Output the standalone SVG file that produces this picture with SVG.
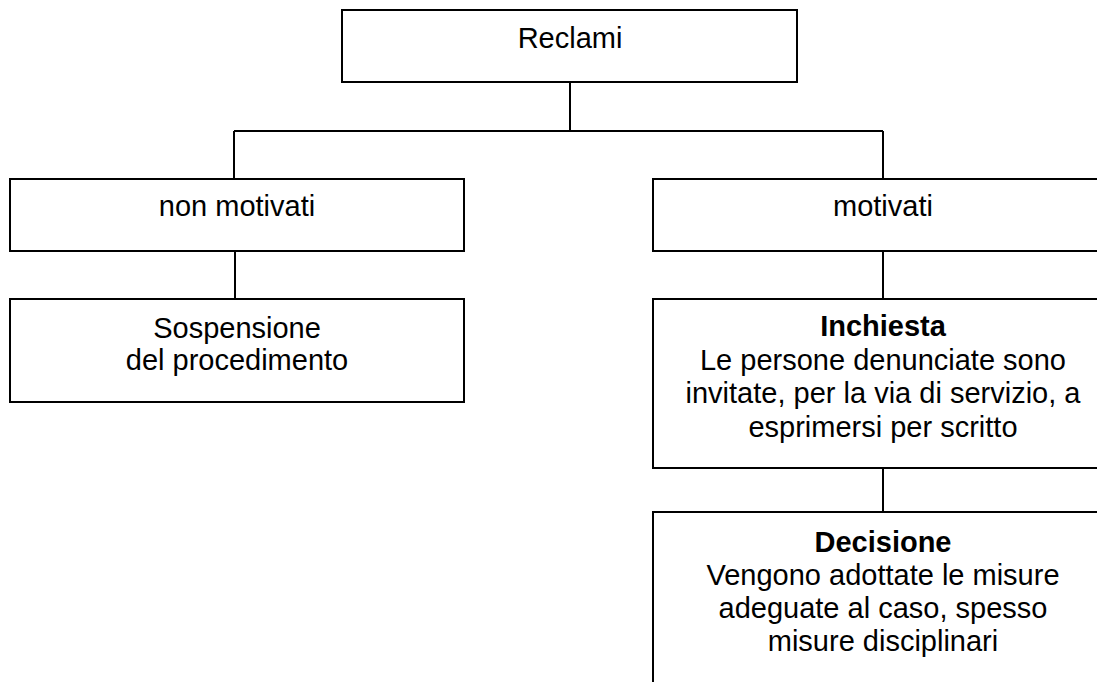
<svg xmlns="http://www.w3.org/2000/svg" width="1097" height="682" viewBox="0 0 1097 682">
<style>
.box{fill:#fff;stroke:#000;stroke-width:2}
.ln{fill:none;stroke:#000;stroke-width:2}
text{font-family:"Liberation Sans",Arial,sans-serif;font-size:29px;fill:#000;text-anchor:middle}
.b{font-weight:bold}
</style>
<rect width="1097" height="682" fill="#fff"/>
<g id="connectors">
<path class="ln" d="M570,82 V131"/>
<path class="ln" d="M234,131 H883"/>
<path class="ln" d="M234,131 V179"/>
<path class="ln" d="M883,131 V179"/>
<path class="ln" d="M235,251 V299"/>
<path class="ln" d="M883,251 V299"/>
<path class="ln" d="M883,468 V512"/>
</g>
<g id="reclami">
<rect class="box" x="342" y="10" width="455" height="72"/>
<text x="570" y="48">Reclami</text>
</g>
<g id="non-motivati">
<rect class="box" x="10" y="179" width="454" height="72"/>
<text x="237" y="216">non motivati</text>
</g>
<g id="sospensione">
<rect class="box" x="10" y="299" width="454" height="103"/>
<text x="237" y="338">Sospensione</text>
<text x="237" y="370">del procedimento</text>
</g>
<g id="motivati">
<rect class="box" x="653" y="179" width="460" height="72"/>
<text x="883" y="216">motivati</text>
</g>
<g id="inchiesta">
<rect class="box" x="653" y="299" width="460" height="169"/>
<text class="b" x="883" y="336">Inchiesta</text>
<text x="883" y="370">Le persone denunciate sono</text>
<text x="883" y="403">invitate, per la via di servizio, a</text>
<text x="883" y="437">esprimersi per scritto</text>
</g>
<g id="decisione">
<rect class="box" x="653" y="512" width="460" height="190"/>
<text class="b" x="883" y="552">Decisione</text>
<text x="883" y="585">Vengono adottate le misure</text>
<text x="883" y="618">adeguate al caso, spesso</text>
<text x="883" y="651">misure disciplinari</text>
</g>
</svg>
